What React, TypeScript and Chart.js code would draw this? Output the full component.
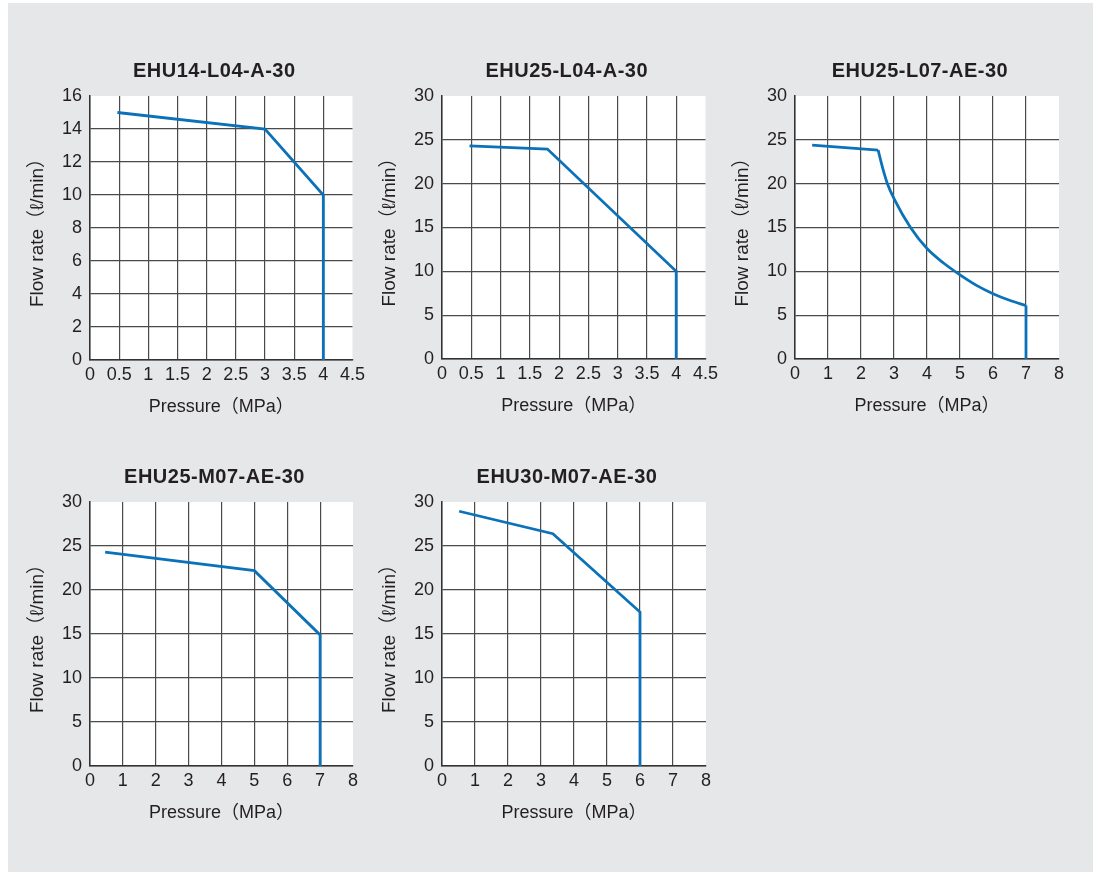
import React, { useEffect, useRef } from 'react';
import { Chart, registerables } from 'chart.js';

Chart.register(...registerables);

// ---------- data ----------
const chartTitles = ['EHU14-L04-A-30', 'EHU25-L04-A-30', 'EHU25-L07-AE-30', 'EHU25-M07-AE-30', 'EHU30-M07-AE-30'];

const xTicksHalf = [0, 0.5, 1, 1.5, 2, 2.5, 3, 3.5, 4, 4.5];
const xTicksEight = [0, 1, 2, 3, 4, 5, 6, 7, 8];
const yTicks16 = [0, 2, 4, 6, 8, 10, 12, 14, 16];
const yTicks30 = [0, 5, 10, 15, 20, 25, 30];

const xAxisTitle = 'Pressure（MPa）';
const yAxisTitle = 'Flow rate（ℓ/min）';

const ehu14Pressure = [0.47, 3.0, 4.0, 4.0];
const ehu14Flow = [15.0, 14.0, 10.0, 0];

const ehu25L04Pressure = [0.47, 1.8, 4.0, 4.0];
const ehu25L04Flow = [24.3, 23.95, 10.0, 0];

const ehu25L07FlatPressure = [0.52, 2.52];
const ehu25L07FlatFlow = [24.4, 23.82];
const ehu25L07CurvePressure = [2.52, 2.6, 2.7, 2.8, 3.0, 3.5, 4.0, 4.5, 5.0, 5.5, 6.0, 6.5, 7.0];
const ehu25L07CurveFlow = [23.82, 22.6, 21.2, 20.0, 18.3, 15.0, 12.6, 10.95, 9.6, 8.4, 7.45, 6.7, 6.1];
const ehu25L07DropPressure = [7.0, 7.0];
const ehu25L07DropFlow = [6.1, 0];

const ehu25M07Pressure = [0.46, 5.0, 7.0, 7.0];
const ehu25M07Flow = [24.3, 22.2, 14.9, 0];

const ehu30M07Pressure = [0.52, 3.36, 6.0, 6.0];
const ehu30M07Flow = [28.95, 26.4, 17.5, 0];

// ---------- styling ----------
const FONT = '"Liberation Sans", Arial, "Noto Sans CJK JP", sans-serif';
const TEXT = '#231f20';
const LINE = '#0b72b9';
const GRID = '#4a4a4a';
const BG = '#e6e7e8';

const Y_W = 72;
const PAD_TOP = 40;
const PAD_RIGHT = 16;
const X_H = 59;

type Series = { xs: number[]; ys: number[]; curve?: boolean };
type Spec = {
  title: string;
  plot: [number, number, number, number]; // left, top, right, bottom (page px)
  xTicks: number[];
  yTicks: number[];
  series: Series[];
};

const specs: Spec[] = [
  { title: chartTitles[0], plot: [90, 96, 353, 360], xTicks: xTicksHalf, yTicks: yTicks16,
    series: [{ xs: ehu14Pressure, ys: ehu14Flow }] },
  { title: chartTitles[1], plot: [442, 96, 706, 359], xTicks: xTicksHalf, yTicks: yTicks30,
    series: [{ xs: ehu25L04Pressure, ys: ehu25L04Flow }] },
  { title: chartTitles[2], plot: [795, 96, 1059, 359], xTicks: xTicksEight, yTicks: yTicks30,
    series: [
      { xs: ehu25L07FlatPressure, ys: ehu25L07FlatFlow },
      { xs: ehu25L07CurvePressure, ys: ehu25L07CurveFlow, curve: true },
      { xs: ehu25L07DropPressure, ys: ehu25L07DropFlow },
    ] },
  { title: chartTitles[3], plot: [90, 502, 353, 766], xTicks: xTicksEight, yTicks: yTicks30,
    series: [{ xs: ehu25M07Pressure, ys: ehu25M07Flow }] },
  { title: chartTitles[4], plot: [442, 502, 706, 766], xTicks: xTicksEight, yTicks: yTicks30,
    series: [{ xs: ehu30M07Pressure, ys: ehu30M07Flow }] },
];

const panelTitlePlugin = {
  id: 'panelTitle',
  beforeDraw(chart: any) {
    const { ctx, chartArea } = chart;
    ctx.save();
    ctx.fillStyle = '#ffffff';
    ctx.fillRect(chartArea.left, chartArea.top, chartArea.right - chartArea.left, chartArea.bottom - chartArea.top);
    ctx.restore();
  },
  afterDraw(chart: any, _args: any, opts: any) {
    const { ctx, chartArea } = chart;
    ctx.save();
    ctx.font = `bold 20px ${FONT}`;
    try { (ctx as any).letterSpacing = '0.5px'; } catch (e) { /* ignore */ }
    ctx.fillStyle = TEXT;
    ctx.textAlign = 'center';
    ctx.textBaseline = 'middle';
    ctx.fillText(opts.text, (chartArea.left + chartArea.right) / 2 - 7, chartArea.top - 25);
    ctx.restore();
  },
};

function gridColor(ticks: number[]) {
  const max = ticks[ticks.length - 1];
  return (c: any) => (c.tick && c.tick.value === max ? 'rgba(0,0,0,0)' : GRID);
}

function PanelChart({ spec }: { spec: Spec }) {
  const ref = useRef<HTMLCanvasElement | null>(null);
  const [pl, pt, pr, pb] = spec.plot;
  const left = pl - Y_W;
  const top = pt - PAD_TOP;
  const width = pr - pl + Y_W + PAD_RIGHT;
  const height = pb - pt + PAD_TOP + X_H;

  useEffect(() => {
    if (!ref.current) return;
    const xt = spec.xTicks;
    const yt = spec.yTicks;
    const chart = new Chart(ref.current, {
      type: 'line',
      data: {
        datasets: spec.series.map((s) => ({
          data: s.xs.map((x, i) => ({ x, y: s.ys[i] })),
          borderColor: LINE,
          backgroundColor: LINE,
          borderWidth: 2.8,
          pointRadius: 0,
          fill: false,
          tension: 0,
          cubicInterpolationMode: s.curve ? 'monotone' : 'default',
          borderJoinStyle: 'miter',
          borderCapStyle: 'butt',
        })),
      },
      options: {
        responsive: false,
        animation: false,
        devicePixelRatio: window.devicePixelRatio || 1,
        layout: { padding: { top: PAD_TOP, right: PAD_RIGHT, left: 0, bottom: 0 } },
        plugins: {
          legend: { display: false },
          tooltip: { enabled: false },
          title: { display: false },
          panelTitle: { text: spec.title },
        } as any,
        scales: {
          x: {
            type: 'linear',
            min: xt[0],
            max: xt[xt.length - 1],
            afterBuildTicks: (s: any) => { s.ticks = xt.map((v) => ({ value: v })); },
            afterFit: (s: any) => { s.height = X_H; },
            grid: { color: gridColor(xt), lineWidth: 1.2, drawTicks: false },
            border: { display: true, color: '#333333', width: 1.5 },
            ticks: {
              padding: 4,
              color: TEXT,
              font: { family: FONT, size: 18 },
              maxRotation: 0,
              autoSkip: false,
              callback: (v: any) => String(v),
            },
            title: {
              display: true,
              text: xAxisTitle,
              color: TEXT,
              font: { family: FONT, size: 18 },
              padding: { top: 0, bottom: 1 },
            },
          },
          y: {
            type: 'linear',
            min: yt[0],
            max: yt[yt.length - 1],
            afterBuildTicks: (s: any) => { s.ticks = yt.map((v) => ({ value: v })); },
            afterFit: (s: any) => { s.width = Y_W; },
            grid: { color: gridColor(yt), lineWidth: 1.2, drawTicks: false },
            border: { display: true, color: '#333333', width: 1.5 },
            ticks: {
              padding: 8,
              color: TEXT,
              font: { family: FONT, size: 18 },
              autoSkip: false,
              callback: (v: any) => String(v),
            },
            title: {
              display: true,
              text: yAxisTitle,
              color: TEXT,
              font: { family: FONT, size: 19 },
              padding: { top: 8, bottom: 0 },
            },
          },
        },
      } as any,
      plugins: [panelTitlePlugin as any],
    });
    return () => chart.destroy();
  }, [spec]);

  return (
    <canvas
      ref={ref}
      width={width}
      height={height}
      style={{ position: 'absolute', left, top, width, height }}
    />
  );
}

export default function App() {
  return (
    <div style={{ position: 'absolute', left: 0, top: 0, width: 1095, height: 875 }}>
      <div style={{ position: 'absolute', left: 8, top: 3, width: 1085, height: 869, background: BG }} />
      <div style={{ position: 'absolute', left: 0, top: 0, width: 1095, height: 875, pointerEvents: 'none' }}>
        {specs.map((s, i) => (
          <PanelChart key={i} spec={s} />
        ))}
      </div>
    </div>
  );
}
